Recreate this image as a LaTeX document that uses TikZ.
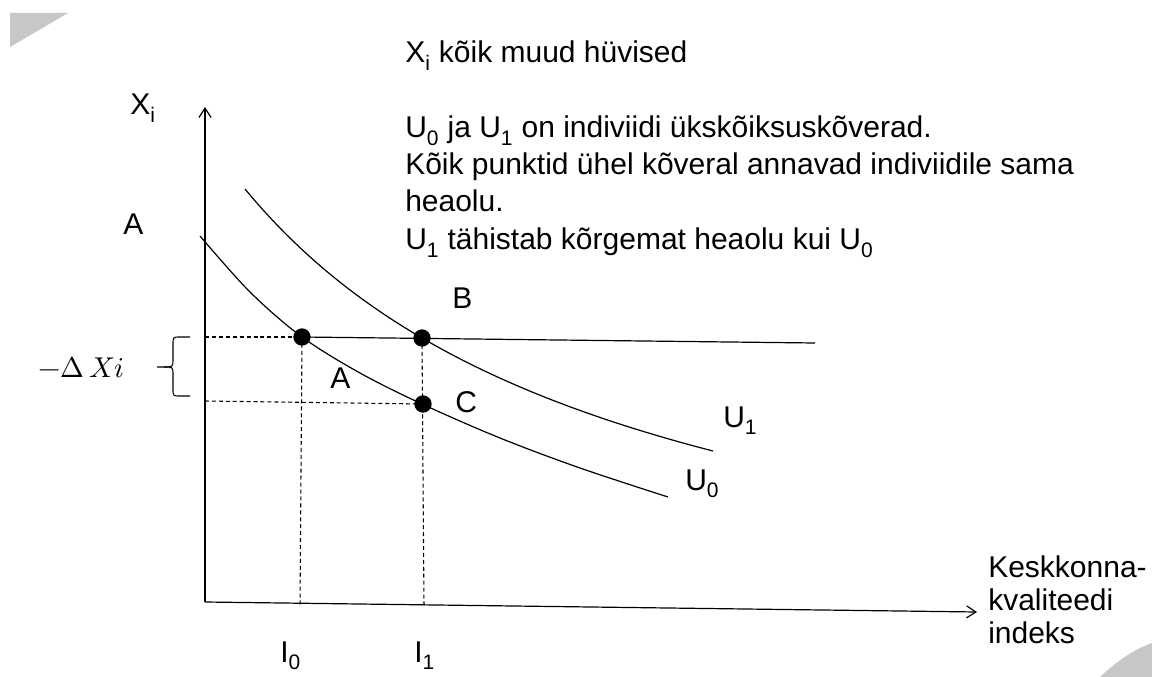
\documentclass[tikz,border=0pt]{standalone}
\usepackage{unicode-math}
\setmainfont{Liberation Sans}
\usetikzlibrary{arrows.meta}
\begin{document}
\begin{tikzpicture}[x=0.75pt,y=-0.75pt,
  lbl/.style={font=\fontsize{22.5}{27}\selectfont, inner sep=0pt, anchor=base west},
  mlbl/.style={font=\fontsize{21.5}{25}\selectfont, inner sep=0pt, anchor=base west},
  ptdot/.style={circle, fill=black, inner sep=0pt, minimum size=13pt},
  axisline/.style={line width=0.9pt, -{Straight Barb[length=7pt,width=9pt,line width=0.9pt]}},
  curveline/.style={line width=0.9pt},
  guide/.style={line width=0.8pt, dash pattern=on 3pt off 2.2pt},
  wmark/.style={fill=black!22, draw=none}]
\useasboundingbox (0,0) rectangle (1152,677);
\clip (0,0) rectangle (1152,677);
% watermark corners
\fill[wmark] (10,13) -- (68,13) -- (10,47) -- cycle;
\fill[wmark] (1100,677) .. controls (1118,660) and (1135,649) .. (1152,643) -- (1152,677) -- cycle;

% coordinates
\coordinate (O) at (205,602);
\coordinate (Ytop) at (205,107);
\coordinate (Xend) at (977,612);
\coordinate (Hend) at (815,343);
\coordinate (Yb) at (205,337);
\coordinate (Yc) at (205,401);
\coordinate (X0) at (300,607);
\coordinate (X1) at (424,607);

% axes
\draw[axisline] (O) -- (Ytop);
\draw[axisline] (O) -- (Xend);

% points
\node[ptdot] (P0) at (302,337) {};
\node[ptdot] (B) at (422,338) {};
\node[ptdot] (C) at (423,404) {};

% indifference curves
\draw[curveline] plot[smooth, tension=0.55] coordinates {(200,236) (250,292) (302,337) (360,373) (422,404) (500,438) (580,468) (668,497)};
\draw[curveline, domain=245:713, samples=60, variable=\t] plot ({\t},{675.4-1949.47/((\t+155.8)/100)});

% horizontal line and guides
\draw[curveline] (P0.center) -- (Hend);
\draw[guide] (Yb) -- (P0.center);
\draw[guide] (Yc) -- (C.center);
\draw[guide] (P0.center) -- (X0);
\draw[guide] (B.center) -- (X1);

% brace
\draw[line width=0.8pt] (190,337) -- (180,337) .. controls (173,337) .. (173,345) -- (173,359) .. controls (173,367) .. (164,367) -- (157,367);
\draw[line width=0.8pt] (164,367) .. controls (173,367) .. (173,375) -- (173,389) .. controls (173,396) .. (180,396) -- (190,396);

% labels
\node[lbl] (ylab) at (130,115) {X\textsubscript{i}};
\node[lbl] (Atop) at (123,235) {A};
\node[mlbl] (dX) at (38,377) {$-\Delta\,Xi$};
\node[lbl] (Bl) at (452,308) {B};
\node[lbl] (Al) at (330,388) {A};
\node[lbl] (Cl) at (455,412) {C};
\node[lbl] (U1l) at (723,427) {U\textsubscript{1}};
\node[lbl] (U0l) at (685,490) {U\textsubscript{0}};
\node[lbl] (I0l) at (280,662) {I\textsubscript{0}};
\node[lbl] (I1l) at (414,662) {I\textsubscript{1}};
\node[lbl] (xl1) at (988,577) {Keskkonna-};
\node[lbl] (xl2) at (988,610) {kvaliteedi};
\node[lbl] (xl3) at (988,643) {indeks};

\node[lbl] (t0) at (405,63) {X\textsubscript{i} kõik muud hüvised};
\node[lbl] (t1) at (405,138) {U\textsubscript{0} ja U\textsubscript{1} on indiviidi ükskõiksuskõverad.};
\node[lbl] (t2) at (405,175) {Kõik punktid ühel kõveral annavad indiviidile sama};
\node[lbl] (t3) at (405,212) {heaolu.};
\node[lbl] (t4) at (405,250) {U\textsubscript{1} tähistab kõrgemat heaolu kui U\textsubscript{0}};
\end{tikzpicture}
\end{document}
